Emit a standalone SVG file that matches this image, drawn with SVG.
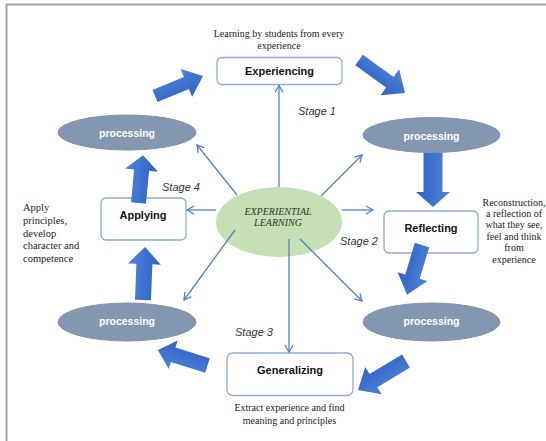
<svg xmlns="http://www.w3.org/2000/svg" width="546" height="441" viewBox="0 0 546 441">
<defs>
<style>
.frame{stroke:#a3a3a3;stroke-width:2;fill:none}
.box{fill:#fff;stroke:#8eaadb;stroke-width:1.3}
.proc{fill:#8497b0;stroke:#7f93ad;stroke-width:1}
.ptxt{font-family:"Liberation Sans",Arial,sans-serif;font-weight:bold;font-size:10.5px;fill:#fff;text-anchor:middle}
.lbl{font-family:"Liberation Sans",Arial,sans-serif;font-weight:bold;font-size:11px;fill:#111;text-anchor:middle}
.stage{font-family:"Liberation Sans",Arial,sans-serif;font-style:italic;font-size:11px;fill:#333}
.note{font-family:"Liberation Serif","Times New Roman",serif;font-size:10px;fill:#222}
.conn{stroke:#4f81d4;stroke-width:1.3;fill:none;marker-end:url(#ah)}
.big{fill:url(#bg)}
</style>
<marker id="ah" markerUnits="userSpaceOnUse" markerWidth="12" markerHeight="12" refX="8" refY="5" orient="auto">
<path d="M1,1 L8,5 L1,9" fill="none" stroke="#4f81d4" stroke-width="1.3"/>
</marker>
<linearGradient id="bg" x1="0" y1="0" x2="0" y2="1">
<stop offset="0" stop-color="#4f82d9"/>
<stop offset="1" stop-color="#2f62c4"/>
</linearGradient>
</defs>

<g id="frame">
<line class="frame" x1="6" y1="4.5" x2="546" y2="4.5"/>
<line class="frame" x1="6.5" y1="4" x2="6.5" y2="441"/>
</g>

<g id="experiencing">
<text class="note" x="279" y="37" text-anchor="middle">Learning by students from every</text>
<text class="note" x="279" y="49" text-anchor="middle">experience</text>
<rect class="box" x="217" y="57.5" width="125" height="27" rx="5"/>
<text class="lbl" x="279.5" y="75">Experiencing</text>
</g>

<g id="applying">
<rect class="box" x="101" y="198" width="85" height="42" rx="5"/>
<text class="lbl" x="143" y="219">Applying</text>
<g class="note" font-size="10.5">
<text x="23" y="211" style="font-size:10.5px">Apply</text>
<text x="23" y="224" style="font-size:10.5px">principles,</text>
<text x="23" y="236.5" style="font-size:10.5px">develop</text>
<text x="23" y="249" style="font-size:10.5px">character and</text>
<text x="23" y="261.5" style="font-size:10.5px">competence</text>
</g>
</g>

<g id="reflecting">
<rect class="box" x="384" y="211" width="94" height="42" rx="5"/>
<text class="lbl" x="431" y="232">Reflecting</text>
<g class="note" text-anchor="middle">
<text x="514" y="205.5">Reconstruction,</text>
<text x="514" y="216.5">a reflection of</text>
<text x="514" y="228">what they see,</text>
<text x="514" y="239.5">feel and think</text>
<text x="514" y="251">from</text>
<text x="514" y="262.5">experience</text>
</g>
</g>

<g id="generalizing">
<rect class="box" x="227" y="353" width="126" height="42.5" rx="6"/>
<text class="lbl" x="290" y="374">Generalizing</text>
<text class="note" x="289.5" y="411" text-anchor="middle">Extract experience and find</text>
<text class="note" x="289.5" y="424" text-anchor="middle">meaning and principles</text>
</g>

<g id="center">
<ellipse cx="279" cy="222" rx="63" ry="35" fill="#c5e0b4"/>
<text x="278" y="214.5" text-anchor="middle" font-family="'Liberation Serif','Times New Roman',serif" font-style="italic" font-size="10px" fill="#333">EXPERIENTIAL</text>
<text x="278" y="226" text-anchor="middle" font-family="'Liberation Serif','Times New Roman',serif" font-style="italic" font-size="10px" fill="#333">LEARNING</text>
</g>

<g id="stages">
<text class="stage" x="298" y="115">Stage 1</text>
<text class="stage" x="340" y="244.5">Stage 2</text>
<text class="stage" x="235" y="335.5">Stage 3</text>
<text class="stage" x="162" y="190.5">Stage 4</text>
</g>

<g id="connectors">
<line class="conn" x1="279" y1="187" x2="279" y2="85.5"/>
<line class="conn" x1="237" y1="195" x2="197" y2="145"/>
<line class="conn" x1="321" y1="196" x2="362" y2="155"/>
<line class="conn" x1="216" y1="210" x2="187" y2="210"/>
<line class="conn" x1="342" y1="210" x2="373" y2="210"/>
<line class="conn" x1="235" y1="230" x2="184" y2="300"/>
<line class="conn" x1="289" y1="239" x2="289" y2="352"/>
<line class="conn" x1="300" y1="239" x2="362" y2="301"/>
</g>

<g id="cycle-arrows">
<path class="big" transform="translate(155,96) rotate(-22.6)" d="M0,-6.5 L34,-6.5 L34,-15 L52,0 L34,15 L34,6.5 L0,6.5 Z"/>
<path class="big" transform="translate(359,60) rotate(35.7)" d="M0,-6.5 L38,-6.5 L38,-16 L56.6,0 L38,16 L38,6.5 L0,6.5 Z"/>
<path class="big" transform="translate(433,150) rotate(90)" d="M0,-9.5 L42,-9.5 L42,-17 L57,0 L42,17 L42,9.5 L0,9.5 Z"/>
<path class="big" transform="translate(422,245) rotate(106.7)" d="M0,-7.5 L33,-7.5 L33,-15.5 L52,0 L33,15.5 L33,7.5 L0,7.5 Z"/>
<path class="big" transform="translate(406,361) rotate(148.9)" d="M0,-7.6 L38,-7.6 L38,-16 L56,0 L38,16 L38,7.6 L0,7.6 Z"/>
<path class="big" transform="translate(207.5,365.5) rotate(-162.6)" d="M0,-7.6 L36,-7.6 L36,-15 L52,0 L36,15 L36,7.6 L0,7.6 Z"/>
<path class="big" transform="translate(143,300) rotate(-87.8)" d="M0,-8 L36,-8 L36,-16.5 L53,0 L36,16.5 L36,8 L0,8 Z"/>
<path class="big" transform="translate(138.5,203) rotate(-84.6)" d="M0,-7.5 L33,-7.5 L33,-16.5 L48,0 L33,16.5 L33,7.5 L0,7.5 Z"/>
</g>

<g id="processing-tl">
<ellipse class="proc" cx="127" cy="132.5" rx="69" ry="17.5"/>
<text class="ptxt" x="127" y="137">processing</text>
</g>
<g id="processing-tr">
<ellipse class="proc" cx="431.5" cy="135" rx="68.5" ry="17.5"/>
<text class="ptxt" x="431.5" y="139.5">processing</text>
</g>
<g id="processing-bl">
<ellipse class="proc" cx="127" cy="322" rx="69" ry="19"/>
<text class="ptxt" x="127" y="325">processing</text>
</g>
<g id="processing-br">
<ellipse class="proc" cx="431.5" cy="322" rx="68.5" ry="19"/>
<text class="ptxt" x="431.5" y="325">processing</text>
</g>
</svg>
